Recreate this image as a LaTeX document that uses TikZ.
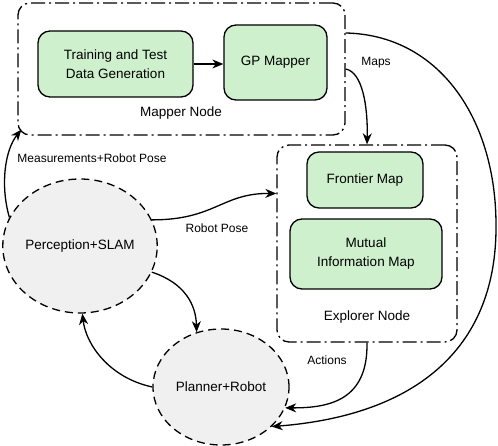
\documentclass[tikz,border=0pt]{standalone}
\usepackage{fontspec}
\setmainfont{Liberation Sans}
\usetikzlibrary{shapes.geometric,arrows.meta,calc}
\definecolor{boxgreen}{RGB}{206,240,204}
\definecolor{ellgrey}{RGB}{240,240,240}
\newcommand{\mynodefont}{\fontsize{13.5}{19}\selectfont}
\newcommand{\mylabelfont}{\fontsize{12}{14}\selectfont}
\begin{document}
\begin{tikzpicture}[x=1pt,y=-1pt,
  proc/.style={draw, line width=1.3pt, fill=boxgreen, rounded corners=12pt, align=center, font=\mynodefont, inner sep=0pt},
  container/.style={draw, line width=1.3pt, rounded corners=12pt, dash pattern=on 14pt off 4pt on 2pt off 4pt, inner sep=0pt},
  agent/.style={ellipse, draw, line width=1.3pt, fill=ellgrey, dash pattern=on 8pt off 5pt, inner sep=0pt, font=\mynodefont},
  conn/.style={line width=1.3pt, -{Stealth[length=11pt,width=9pt,inset=3.5pt]}},
  lbl/.style={font=\mylabelfont, inner sep=0pt},
  title/.style={font=\mynodefont, inner sep=0pt}
]
\useasboundingbox (0,0) rectangle (498,446);

% containers
\node[container, minimum width=327pt, minimum height=132pt] (mapper) at (181.5,69) {};
\node[title] (mapperlbl) at (181,113) {Mapper Node};
\node[container, minimum width=180pt, minimum height=197pt] (explorer) at (367,243.5) {};
\node[title] (explorerlbl) at (367,317) {Explorer Node};

% process boxes
\node[proc, minimum width=155pt, minimum height=66pt] (train) at (115.5,64) {Training and Test\\Data Generation};
\node[proc, minimum width=103pt, minimum height=75pt] (gp) at (275.5,62.5) {GP Mapper};
\node[proc, minimum width=116pt, minimum height=56pt] (frontier) at (365,180) {Frontier Map};
\node[proc, minimum width=152pt, minimum height=70pt] (mi) at (366,254) {Mutual\\Information Map};

% agents
\node[agent, minimum width=154pt, minimum height=134pt] (perc) at (80,246) {Perception+SLAM};
\node[agent, minimum width=136pt, minimum height=116pt] (plan) at (221,387) {Planner+Robot};

% connectors
\draw[conn] (train.east) -- (train.east -| gp.west);
\draw[conn] (mapper.east) .. controls (362,72) and (368,105) .. (explorer.north);
\draw[conn] ($(mapper.east)+(0,-36)$) .. controls (440,35) and (496,120) .. (496,225)
            .. controls (497,345) and (420,415) .. (plan.322);
\draw[conn] (explorer.south) .. controls (368,400) and (330,408) .. (plan.342);
\draw[conn] (perc.340) .. controls (185,283) and (196,305) .. (plan.114);
\draw[conn] (plan.west) .. controls (110,378) and (86,345) .. (perc.272);
\draw[conn] (perc.158) .. controls (0,185) and (5,150) .. ($(mapper.south west)+(4,-6)$);
\draw[conn] (perc.20) .. controls (215,220) and (222,193) .. ($(explorer.west)+(0,-50)$);

% labels
\node[lbl] (lmeas) at (92,158) {Measurements+Robot Pose};
\node[lbl] (lpose) at (217,228) {Robot Pose};
\node[lbl] (lmaps) at (376,63) {Maps};
\node[lbl] (lact) at (327,360) {Actions};
\end{tikzpicture}
\end{document}
